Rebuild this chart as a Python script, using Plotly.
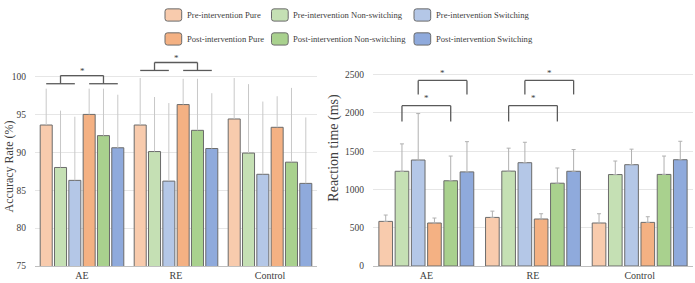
import plotly.graph_objects as go

W, H = 695, 283
ML, MR, MT, MB = 35, 2, 50, 14

groups = ["AE", "RE", "Control"]
series = ["Pre-intervention Pure", "Pre-intervention Non-switching", "Pre-intervention Switching",
          "Post-intervention Pure", "Post-intervention Non-switching", "Post-intervention Switching"]
colors = ["#F8CBAD", "#C5E0B4", "#B4C7E7", "#F4B183", "#A9D18E", "#8FAADC"]

# Accuracy rate (%) means per series, across groups AE, RE, Control
acc_mean = [
    [93.6, 93.6, 94.4],
    [88.0, 90.1, 89.9],
    [86.3, 86.2, 87.1],
    [95.0, 96.3, 93.3],
    [92.2, 92.9, 88.7],
    [90.6, 90.5, 85.9],
]
acc_top = [
    [98.4, 99.8, 99.8],
    [95.5, 97.3, 99.0],
    [94.7, 96.5, 96.7],
    [98.4, 99.7, 97.4],
    [98.4, 99.7, 98.5],
    [97.6, 97.8, 94.6],
]
# Reaction time (ms)
rt_mean = [
    [583, 635, 562],
    [1238, 1240, 1195],
    [1385, 1350, 1324],
    [562, 614, 570],
    [1114, 1082, 1197],
    [1230, 1238, 1389],
]
rt_top = [
    [666, 717, 683],
    [1596, 1540, 1372],
    [1992, 1617, 1527],
    [627, 683, 644],
    [1437, 1281, 1437],
    [1625, 1522, 1630],
]
acc_ticks = [75, 80, 85, 90, 95, 100]
rt_ticks = [0, 500, 1000, 1500, 2000, 2500]

BARGAP = 0.086
NS = len(series)
FONT = "Liberation Serif, Times New Roman, serif"
EDGE = "#6b6b6b"
BRK = "#5a5a5a"

fig = go.Figure()
xs = list(range(len(groups)))
for k, name in enumerate(series):
    fig.add_trace(go.Bar(
        x=xs, y=acc_mean[k], name=name, xaxis="x", yaxis="y",
        marker=dict(color=colors[k], line=dict(color=EDGE, width=1)),
        error_y=dict(type="data", symmetric=False,
                     array=[t - m for t, m in zip(acc_top[k], acc_mean[k])],
                     arrayminus=[0] * len(groups), color="#c8c8c8", thickness=1, width=0),
        showlegend=False))
for k, name in enumerate(series):
    fig.add_trace(go.Bar(
        x=xs, y=rt_mean[k], name=name, xaxis="x2", yaxis="y2", offsetgroup=str(k),
        marker=dict(color=colors[k], line=dict(color=EDGE, width=1)),
        error_y=dict(type="data", symmetric=False,
                     array=[t - m for t, m in zip(rt_top[k], rt_mean[k])],
                     arrayminus=[0] * len(groups), color="#b0b0b0", thickness=1, width=2),
        showlegend=False))


def off(g, k):
    slot = (1 - BARGAP) / NS
    return g + (k + 0.5) * slot - (1 - BARGAP) / 2


shapes = []
annots = []


def line(xr, yr, x0, y0, x1, y1):
    shapes.append(dict(type="line", xref=xr, yref=yr, x0=x0, y0=y0, x1=x1, y1=y1,
                       line=dict(color=BRK, width=1.3)))


# Left chart brackets: pre vs post
for g, (ylow, ytop, ystar) in {0: (99.05, 100.13, 100.75), 1: (100.8, 101.85, 102.45)}.items():
    line("x", "y", off(g, 0), ylow, off(g, 2), ylow)
    line("x", "y", off(g, 3), ylow, off(g, 5), ylow)
    line("x", "y", off(g, 1), ylow, off(g, 1), ytop)
    line("x", "y", off(g, 4), ylow, off(g, 4), ytop)
    line("x", "y", off(g, 1), ytop, off(g, 4), ytop)
    annots.append(dict(xref="x", yref="y", x=(off(g, 1) + off(g, 4)) / 2, y=ystar, text="*",
                       showarrow=False, font=dict(family=FONT, size=9, color="#404040"),
                       yanchor="middle"))

# Right chart brackets
for g in [0, 1]:
    for (a, b, yl, yt, ys) in [(2, 5, 2242, 2426, 2520), (1, 4, 1889, 2096, 2190)]:
        line("x2", "y2", off(g, a), yl, off(g, a), yt)
        line("x2", "y2", off(g, b), yl, off(g, b), yt)
        line("x2", "y2", off(g, a), yt, off(g, b), yt)
        annots.append(dict(xref="x2", yref="y2", x=(off(g, a) + off(g, b)) / 2, y=ys, text="*",
                           showarrow=False, font=dict(family=FONT, size=9, color="#404040"),
                           yanchor="middle"))

PW = W - ML - MR
PH = H - MT - MB


def px2paper(px, py):
    return (px - ML) / PW, (H - MB - py) / PH


def rrect(x0, y0, x1, y1, r):
    def P(x, y):
        a, b = px2paper(x, y)
        return f"{a:.5f},{b:.5f}"
    d = f"M {P(x0 + r, y0)} L {P(x1 - r, y0)} Q {P(x1, y0)} {P(x1, y0 + r)} " \
        f"L {P(x1, y1 - r)} Q {P(x1, y1)} {P(x1 - r, y1)} L {P(x0 + r, y1)} " \
        f"Q {P(x0, y1)} {P(x0, y1 - r)} L {P(x0, y0 + r)} Q {P(x0, y0)} {P(x0 + r, y0)} Z"
    return d


leg_x = [165, 271.5, 414]
leg_y = [14.5, 38.8]
for k, name in enumerate(series):
    row, col = divmod(k, 3)
    cx, cy = leg_x[col], leg_y[row]
    shapes.append(dict(type="path", xref="paper", yref="paper",
                       path=rrect(cx, cy - 6.2, cx + 16.7, cy + 6.2, 2.5),
                       fillcolor=colors[k], line=dict(color=EDGE, width=1)))
    tx, ty = px2paper(cx + 19.5, cy)
    annots.append(dict(xref="paper", yref="paper", x=tx, y=ty, text=name, showarrow=False,
                       xanchor="left", yanchor="middle",
                       font=dict(family=FONT, size=8.6, color="#404040")))

# axis titles
ax_, ay_ = px2paper(0, 168)
annots.append(dict(xref="paper", yref="paper", x=ax_, y=ay_, text="Accuracy Rate (%)",
                   textangle=-90, showarrow=False, xanchor="left", yanchor="middle",
                   font=dict(family=FONT, size=12, color="#404040")))
ax_, ay_ = px2paper(334, 149)
annots.append(dict(xref="paper", yref="paper", x=ax_, y=ay_, text="Reaction time (ms)",
                   textangle=-90, showarrow=False, font=dict(family=FONT, size=14, color="#404040")))

xd1 = [0, (317 - ML) / PW]
xd2 = [(373 - ML) / PW, 1]

common_x = dict(tickvals=xs, ticktext=groups, range=[-0.5, 2.5], showline=True,
                linecolor="#bfbfbf", linewidth=1, showgrid=False, ticks="", zeroline=False,
                tickfont=dict(family=FONT, size=10, color="#404040"), fixedrange=True)
common_y = dict(showline=False, gridcolor="#e6e6e6", gridwidth=1, zeroline=False, ticks="",
                tickfont=dict(family=FONT, size=9.5, color="#404040"), ticklabelstandoff=8)

fig.update_layout(
    width=W, height=H, margin=dict(l=ML, r=MR, t=MT, b=MB),
    paper_bgcolor="white", plot_bgcolor="white",
    barmode="group", bargap=BARGAP, bargroupgap=0.16,
    xaxis=dict(domain=xd1, anchor="y", **common_x),
    xaxis2=dict(domain=xd2, anchor="y2", **common_x),
    yaxis=dict(domain=[0, 1], anchor="x", range=[75, 103.5], tickvals=acc_ticks, **common_y),
    yaxis2=dict(domain=[0, 1], anchor="x2", range=[0, 2823], tickvals=rt_ticks, **common_y),
    shapes=shapes, annotations=annots, showlegend=False,
    font=dict(family=FONT),
)

fig.write_html("out.html")
